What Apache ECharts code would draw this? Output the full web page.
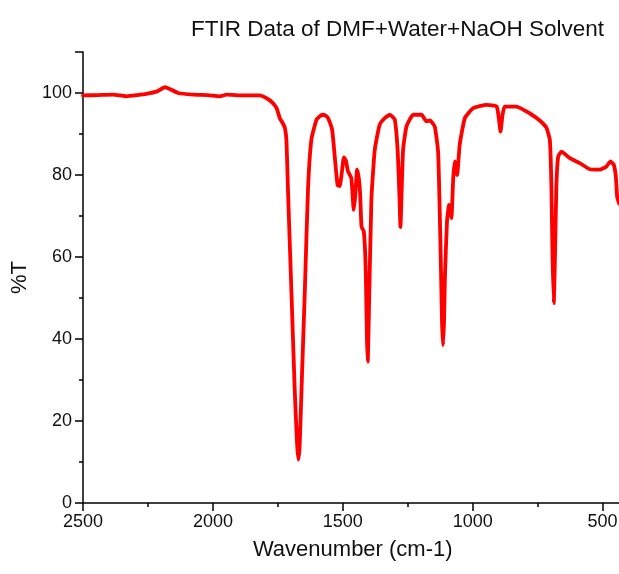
<!DOCTYPE html>
<html>
<head>
<meta charset="utf-8">
<script src="https://cdn.jsdelivr.net/npm/echarts@6/dist/echarts.min.js"></script>
<style>html,body{margin:0;padding:0;background:#fff;}#c{width:619px;height:574px;}</style>
</head>
<body>
<div id="c"></div>
<script>
const chartTitle = "FTIR Data of DMF+Water+NaOH Solvent";
const xName = "Wavenumber (cm-1)";
const yName = "%T";
const wavenumber = [2500,2440,2385,2333,2290,2256,2215,2185,2166,2134,2076,2020,1973,1948,1880,1820,1790,1770,1755,1742,1730,1723,1717,1711,1698,1685,1676,1671,1666,1659,1646,1634,1621,1601,1580,1566,1557,1541,1531,1520,1512,1504,1496,1488,1480,1467,1458,1452,1445,1438,1433,1428,1419,1412,1407,1404,1400,1390,1377,1358,1338,1319,1300,1289,1282,1278,1274,1268,1255,1229,1197,1178,1165,1146,1133,1124,1118,1114,1110,1107,1099,1091,1082,1075,1069,1060,1050,1030,998,947,908,898,893,885,877,831,780,742,716,703,697,693,688,683,678,671,658,626,588,549,511,485,470,457,449,444,436];
const transmittance = [99.4,99.5,99.6,99.2,99.5,99.8,100.4,101.4,101.0,100.0,99.6,99.5,99.2,99.6,99.4,99.4,98.6,97.6,96.3,93.8,92.5,91.5,88.6,76.4,52.0,27.5,14.5,10.6,14.0,27.5,52.0,76.4,88.6,93.5,94.7,94.5,93.9,91.0,84.5,77.5,77.3,80.5,84.3,83.5,80.9,79.2,71.5,75,81.3,79,75,67.4,66.2,57.6,40,34.5,45,73.9,86.1,92.3,93.9,94.7,93.5,86.1,75,67.3,75,86.1,91.8,94.7,94.7,93.1,93.3,91.8,85.5,62.9,44,38.5,45,54.8,68.6,72.7,69.5,79.2,83.3,80.0,87.4,93.9,96.3,97.1,96.7,93.1,90.6,94.7,96.7,96.7,95.0,93.3,91.5,88.5,77.2,60.9,48.7,60.9,77.2,84.5,85.7,84.1,82.9,81.4,81.3,82.1,83.3,82.5,79.6,74.7,73];

const pts = wavenumber.map((w, i) => [w, transmittance[i]]);
const font = '"Liberation Sans", Arial, sans-serif';
const chart = echarts.init(document.getElementById('c'), null, {renderer: 'canvas'});
chart.setOption({
  animation: false,
  backgroundColor: '#ffffff',
  title: {
    text: chartTitle,
    left: 186, top: 13,
    textStyle: {fontFamily: font, fontSize: 22.5, fontWeight: 'normal', color: '#111'}
  },
  grid: {left: 83, width: 649.5, top: 52, height: 451, containLabel: false, outerBoundsMode: 'none'},
  xAxis: {
    type: 'value', inverse: true, min: 0, max: 2500, interval: 500,
    name: xName, nameLocation: 'middle', nameGap: 36,
    nameTextStyle: {fontFamily: font, fontSize: 22, color: '#111', padding: [0, 110, 0, 0]},
    axisLine: {show: true, onZero: false, lineStyle: {color: '#000', width: 1.5}},
    axisTick: {show: true, inside: false, length: 8, lineStyle: {color: '#000', width: 1.5}},
    minorTick: {show: true, splitNumber: 2, length: 4, lineStyle: {color: '#000', width: 1.5}},
    axisLabel: {fontFamily: font, fontSize: 18, color: '#111', margin: 10, formatter: v => String(v), showMinLabel: false},
    splitLine: {show: false}
  },
  yAxis: {
    type: 'value', min: 0, max: 110, interval: 20,
    name: yName, nameLocation: 'middle', nameGap: 50, nameRotate: 90,
    nameTextStyle: {fontFamily: font, fontSize: 22, color: '#111'},
    axisLine: {show: true, onZero: false, lineStyle: {color: '#000', width: 1.5}},
    axisTick: {show: true, inside: false, length: 8, lineStyle: {color: '#000', width: 1.5}},
    minorTick: {show: true, splitNumber: 2, length: 4, lineStyle: {color: '#000', width: 1.5}},
    axisLabel: {fontFamily: font, fontSize: 18, color: '#111', margin: 11, showMaxLabel: false, formatter: v => String(v)},
    splitLine: {show: false}
  },
  series: [{
    type: 'line', data: pts, showSymbol: false, smooth: 0.15,
    lineStyle: {color: '#ff0000', width: 3.8, join: 'round', cap: 'round'},
    clip: true
  }]
});
</script>
</body>
</html>
